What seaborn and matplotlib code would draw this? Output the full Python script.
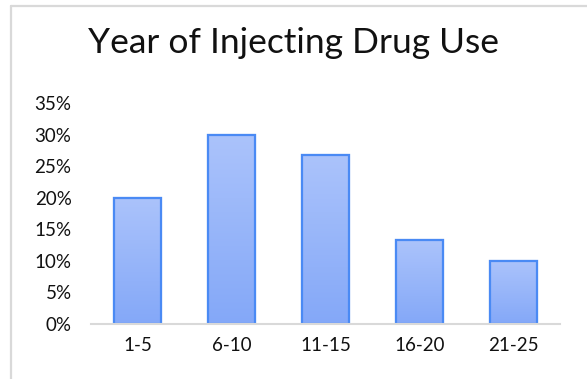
import numpy as np
import pandas as pd
import matplotlib
matplotlib.use("Agg")
import matplotlib.pyplot as plt
from matplotlib.lines import Line2D
from matplotlib.colors import LinearSegmentedColormap
import seaborn as sns

# Share of respondents by years of injecting drug use
groups = ["1-5", "6-10", "11-15", "16-20", "21-25"]
shares = [0.20, 0.30, 0.267, 0.133, 0.10]
y_ticks = [0.0, 0.05, 0.10, 0.15, 0.20, 0.25, 0.30, 0.35]
y_labels = ["0%", "5%", "10%", "15%", "20%", "25%", "30%", "35%"]

sns.set_theme(style="white")
plt.rcParams["font.family"] = ["Lato", "DejaVu Sans"]

df = pd.DataFrame({"group": groups, "share": shares})

fig = plt.figure(figsize=(5.87, 3.79), dpi=100)
ax = fig.add_axes([0.155, 0.145, 0.799, 0.583])

sns.barplot(data=df, x="group", y="share", ax=ax, width=0.5,
            color="#97b5f9", edgecolor="#4f8ef5", linewidth=1.5,
            saturation=1)

# vertical gradient fill inside each bar
grad = LinearSegmentedColormap.from_list("barfill", ["#84a8f8", "#abc3fb"])
for patch in ax.patches:
    x0, y0 = patch.get_x(), patch.get_y()
    w, h = patch.get_width(), patch.get_height()
    img = ax.imshow(np.linspace(0, 1, 100).reshape(-1, 1), cmap=grad,
                    extent=[x0, x0 + w, y0, y0 + h], origin="lower",
                    aspect="auto", zorder=patch.get_zorder() + 0.1)
    img.set_clip_path(patch)
    outline = plt.Rectangle((x0, y0), w, h, fill=False,
                            edgecolor="#4a8af4", linewidth=1.6,
                            zorder=patch.get_zorder() + 0.2)
    ax.add_patch(outline)

ax.set_xlim(-0.5, len(groups) - 0.5)
ax.set_ylim(0, 0.35)
ax.set_yticks(y_ticks)
ax.set_yticklabels(y_labels)
ax.set_xlabel("")
ax.set_ylabel("")
ax.tick_params(axis="y", length=0, pad=14, labelsize=13.5, labelcolor="#111111")
ax.tick_params(axis="x", length=0, pad=9, labelsize=13.5, labelcolor="#111111")

for side in ["left", "right", "top"]:
    ax.spines[side].set_visible(False)
ax.spines["bottom"].set_color("#d9d9d9")
ax.spines["bottom"].set_linewidth(1.5)

fig.text(0.5, 0.887, "Year of Injecting Drug Use", ha="center", va="center",
         fontsize=25.5, color="#111111")

# chart-area frame
fig.add_artist(Line2D([0.0187, 0.0187], [0.0, 0.984], color="#d9d9d9",
                      linewidth=1.6, transform=fig.transFigure))
fig.add_artist(Line2D([0.0187, 1.0], [0.984, 0.984], color="#d9d9d9",
                      linewidth=1.6, transform=fig.transFigure))

fig.savefig("out.png", dpi=100)
